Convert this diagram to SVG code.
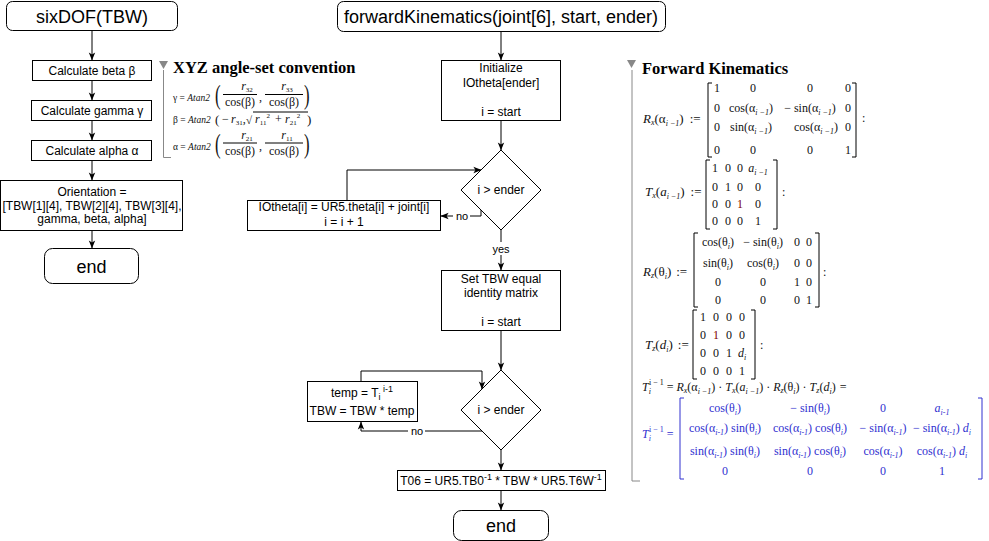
<svg xmlns="http://www.w3.org/2000/svg" width="989" height="541" viewBox="0 0 989 541">
<style>
.box{fill:#fff;stroke:#000;stroke-width:1}
.t{font-family:"Liberation Sans",Arial,sans-serif;font-size:12px;fill:#000;text-anchor:middle}
.big{font-size:18px}
.edge{fill:none;stroke:#000;stroke-width:1;marker-end:url(#arr)}
.lbl{font-family:"Liberation Sans",Arial,sans-serif;font-size:11px;fill:#000;text-anchor:middle}
.m{font-family:"Liberation Serif","Times New Roman",serif;font-size:12px;fill:#111}
.c{text-anchor:middle}
.i{font-style:italic}
.s{font-size:8px}
.blue{fill:#3030d0}
.br{fill:none;stroke:#000;stroke-width:1}
.bb{fill:none;stroke:#3030d0;stroke-width:1}
.mr{fill:#800000}
.guide{fill:none;stroke:#888;stroke-width:1}
.ttl{font-family:"Liberation Serif","Times New Roman",serif;font-weight:bold;font-size:16.5px;fill:#000}
</style>
<defs>
<marker id="arr" viewBox="0 0 10 10" refX="9.5" refY="5" markerWidth="8" markerHeight="8" orient="auto" markerUnits="userSpaceOnUse">
<path d="M0,1 L10,5 L0,9 L2.5,5 z" fill="#000"/>
</marker>
</defs>

<g id="connectors">
<path class="edge" d="M92,31 L92,60"/>
<path class="edge" d="M92,81 L92,100"/>
<path class="edge" d="M92,121 L92,140"/>
<path class="edge" d="M92,161 L92,180"/>
<path class="edge" d="M92,231 L92,248"/>
<path class="edge" d="M501,32 L501,60"/>
<path class="edge" d="M501,121 L501,150"/>
<path class="edge" d="M347,200 L347,170 L481,170"/>
<path class="edge" d="M481,210 L481,216 L441,216"/>
<rect x="453" y="209" width="17" height="13" fill="#fff"/>
<text class="lbl" x="462" y="219.5">no</text>
<path class="edge" d="M501,230 L501,270"/>
<rect x="491" y="242" width="20" height="13" fill="#fff"/>
<text class="lbl" x="501" y="252.5">yes</text>
<path class="edge" d="M501,331 L501,370"/>
<path class="edge" d="M361,381 L361,371 L482,371 L482,389"/>
<path class="edge" d="M482,429 L482,431 L361,431 L361,422"/>
<rect x="408" y="424" width="17" height="13" fill="#fff"/>
<text class="lbl" x="417" y="434.5">no</text>
<path class="edge" d="M501,450 L501,470"/>
<path class="edge" d="M501,491 L501,510"/>
</g>

<g id="sixDOF">
<rect class="box" x="6.5" y="1.5" width="171" height="29" rx="6"/>
<text class="t big" x="92" y="22.5">sixDOF(TBW)</text>
</g>
<g id="calcBeta">
<rect class="box" x="32.5" y="60.5" width="119" height="20"/>
<text class="t" x="92" y="75">Calculate beta β</text>
</g>
<g id="calcGamma">
<rect class="box" x="31.5" y="100.5" width="120" height="20"/>
<text class="t" x="92" y="115">Calculate gamma γ</text>
</g>
<g id="calcAlpha">
<rect class="box" x="31.5" y="140.5" width="120" height="20"/>
<text class="t" x="92" y="155">Calculate alpha α</text>
</g>
<g id="orientation">
<rect class="box" x="0.5" y="180.5" width="182" height="50"/>
<text class="t" x="92" y="196">Orientation =</text>
<text class="t" x="92" y="209.5" textLength="179" lengthAdjust="spacingAndGlyphs">[TBW[1][4], TBW[2][4], TBW[3][4],</text>
<text class="t" x="92" y="223">gamma, beta, alpha]</text>
</g>
<g id="end1">
<rect class="box" x="44.5" y="248.5" width="94" height="35" rx="8"/>
<text class="t big" x="91.5" y="272.5">end</text>
</g>

<g id="xyz">
<path d="M159,61 L168,61 L163.5,69 z" fill="#888"/>
<path class="guide" d="M163.5,70 L163.5,157.5 L171,157.5"/>
<text class="ttl" x="173" y="73">XYZ angle-set convention</text>
<g class="m" font-size="10">
<text x="173" y="101" font-size="9.5">γ = <tspan class="i">Atan2</tspan></text>
<text transform="translate(215,104) scale(0.6,1)" font-size="28">(</text>
<text x="247" y="90" class="c"><tspan class="i">r</tspan><tspan font-size="7" dy="2">32</tspan></text>
<path class="br" d="M223,94.5 L257,94.5"/>
<text x="240" y="106" class="c">cos(β)</text>
<text x="259" y="101">,</text>
<text x="287" y="90" class="c"><tspan class="i">r</tspan><tspan font-size="7" dy="2">33</tspan></text>
<path class="br" d="M265,94.5 L303,94.5"/>
<text x="284" y="106" class="c">cos(β)</text>
<text transform="translate(304,104) scale(0.6,1)" font-size="28">)</text>

<text x="173" y="123" font-size="9.5">β = <tspan class="i">Atan2</tspan></text>
<text x="215" y="124" font-size="13">(</text>
<text x="222" y="123">−</text>
<text x="231" y="123"><tspan class="i">r</tspan><tspan font-size="7" dy="2">31</tspan><tspan dy="-2">,</tspan></text>
<text x="246" y="124" font-size="11">√</text>
<path class="br" d="M253,112 L308,112"/>
<text x="255" y="123"><tspan class="i">r</tspan><tspan font-size="7" dy="2">11</tspan><tspan font-size="7" dy="-7">2</tspan></text>
<text x="275" y="123">+</text>
<text x="285" y="123"><tspan class="i">r</tspan><tspan font-size="7" dy="2">21</tspan><tspan font-size="7" dy="-7">2</tspan></text>
<text x="307" y="124" font-size="13">)</text>

<text x="173" y="150" font-size="9.5">α = <tspan class="i">Atan2</tspan></text>
<text transform="translate(215,153) scale(0.6,1)" font-size="28">(</text>
<text x="247" y="139" class="c"><tspan class="i">r</tspan><tspan font-size="7" dy="2">21</tspan></text>
<path class="br" d="M223,143 L257,143"/>
<text x="240" y="155" class="c">cos(β)</text>
<text x="259" y="150">,</text>
<text x="287" y="139" class="c"><tspan class="i">r</tspan><tspan font-size="7" dy="2">11</tspan></text>
<path class="br" d="M265,143 L303,143"/>
<text x="284" y="155" class="c">cos(β)</text>
<text transform="translate(304,153) scale(0.6,1)" font-size="28">)</text>
</g>
</g>

<g id="forwardKinematics">
<rect class="box" x="337.5" y="1.5" width="328" height="30" rx="6"/>
<text class="t big" x="501" y="23">forwardKinematics(joint[6], start, ender)</text>
</g>
<g id="init">
<rect class="box" x="441.5" y="60.5" width="119" height="60"/>
<text class="t" x="501" y="72">Initialize</text>
<text class="t" x="501" y="87">IOtheta[ender]</text>
<text class="t" x="501" y="116">i = start</text>
</g>
<g id="cond1">
<polygon class="box" points="501,150 541,190 501,230 461,190"/>
<text class="t" x="501" y="194">i &gt; ender</text>
</g>
<g id="update">
<rect class="box" x="247.5" y="200.5" width="193" height="30"/>
<text class="t" x="344" y="211">IOtheta[i] = UR5.theta[i] + joint[i]</text>
<text class="t" x="344" y="226">i = i + 1</text>
</g>
<g id="setTBW">
<rect class="box" x="441.5" y="270.5" width="119" height="60"/>
<text class="t" x="501" y="283">Set TBW equal</text>
<text class="t" x="501" y="297">identity matrix</text>
<text class="t" x="501" y="326">i = start</text>
</g>
<g id="cond2">
<polygon class="box" points="501,370 541,410 501,450 461,410"/>
<text class="t" x="501" y="414">i &gt; ender</text>
</g>
<g id="temp">
<rect class="box" x="307.5" y="381.5" width="110" height="40"/>
<text class="t" x="362" y="397">temp = T<tspan font-size="9" dy="3">i</tspan><tspan font-size="9" dy="-8"> i-1</tspan></text>
<text class="t" x="362" y="415">TBW = TBW * temp</text>
</g>
<g id="t06">
<rect class="box" x="397.5" y="470.5" width="208" height="20"/>
<text class="t" x="501" y="485" font-size="11.7">T06 = UR5.TB0<tspan font-size="9" dy="-5">-1</tspan><tspan dy="5"> * TBW * UR5.T6W</tspan><tspan font-size="9" dy="-5">-1</tspan></text>
</g>
<g id="end2">
<rect class="box" x="453.5" y="510.5" width="95" height="30" rx="8"/>
<text class="t big" x="501" y="531.5">end</text>
</g>

<g id="fk">
<path d="M627,60 L636,60 L631.5,68 z" fill="#888"/>
<path class="guide" d="M632,70 L632,481 L640,481"/>
<text class="ttl" x="642" y="74" font-size="17.5">Forward Kinematics</text>

<g class="m">
<!-- Rx -->
<text x="643" y="123" font-size="13"><tspan class="i">R</tspan><tspan class="s i" dy="2">x</tspan><tspan dy="-2">(α</tspan><tspan class="s i" dy="3">i −1</tspan><tspan dy="-3">)</tspan><tspan dx="6">:=</tspan></text>
<path class="br" d="M712,83 L708,83 L708,157 L712,157"/>
<path class="br" d="M852,83 L856,83 L856,157 L852,157"/>
<text x="862" y="122">:</text>
<text class="c" x="717" y="92">1</text><text class="c" x="753" y="92">0</text><text class="c" x="810" y="92">0</text><text class="c" x="848" y="92">0</text>
<text class="c" x="717" y="112">0</text>
<text class="c" x="751" y="112">cos(α<tspan class="s i" dy="3">i −1</tspan><tspan dy="-3">)</tspan></text>
<text class="c" x="810" y="112">− sin(α<tspan class="s i" dy="3">i −1</tspan><tspan dy="-3">)</tspan></text>
<text class="c" x="848" y="112">0</text>
<text class="c" x="717" y="131">0</text>
<text class="c" x="751" y="131">sin(α<tspan class="s i" dy="3">i −1</tspan><tspan dy="-3">)</tspan></text>
<text class="c" x="816" y="131">cos(α<tspan class="s i" dy="3">i −1</tspan><tspan dy="-3">)</tspan></text>
<text class="c" x="848" y="131">0</text>
<text class="c" x="717" y="154">0</text><text class="c" x="753" y="154">0</text><text class="c" x="810" y="154">0</text><text class="c" x="848" y="154">1</text>

<!-- Tx -->
<text x="645" y="196" font-size="13"><tspan class="i">T</tspan><tspan class="s i" dy="2">x</tspan><tspan dy="-2">(</tspan><tspan class="i">a</tspan><tspan class="s i" dy="3">i −1</tspan><tspan dy="-3">)</tspan><tspan dx="6">:=</tspan></text>
<path class="br" d="M710,160 L706,160 L706,229 L710,229"/>
<path class="br" d="M773,160 L777,160 L777,229 L773,229"/>
<text x="782" y="196">:</text>
<text class="c" x="715" y="172">1</text><text class="c" x="728" y="172">0</text><text class="c" x="740" y="172">0</text>
<text class="c" x="758" y="172"><tspan class="i">a</tspan><tspan class="s i" dy="3">i −1</tspan></text>
<text class="c" x="715" y="191">0</text><text class="c" x="728" y="191">1</text><text class="c" x="740" y="191">0</text><text class="c" x="758" y="191">0</text>
<text class="c" x="715" y="208">0</text><text class="c" x="728" y="208">0</text><text class="c mr" x="740" y="208">1</text><text class="c" x="758" y="208">0</text>
<text class="c" x="715" y="225">0</text><text class="c" x="728" y="225">0</text><text class="c" x="740" y="225">0</text><text class="c" x="758" y="225">1</text>

<!-- Rz -->
<text x="643" y="276" font-size="13"><tspan class="i">R</tspan><tspan class="s i" dy="2">z</tspan><tspan dy="-2">(θ</tspan><tspan class="s i" dy="3">i</tspan><tspan dy="-3">)</tspan><tspan dx="5">:=</tspan></text>
<path class="br" d="M698,233 L694,233 L694,307 L698,307"/>
<path class="br" d="M815,233 L819,233 L819,307 L815,307"/>
<text x="823" y="276">:</text>
<text class="c" x="718" y="246">cos(θ<tspan class="s i" dy="3">i</tspan><tspan dy="-3">)</tspan></text>
<text class="c" x="763" y="246">− sin(θ<tspan class="s i" dy="3">i</tspan><tspan dy="-3">)</tspan></text>
<text class="c" x="797" y="246">0</text><text class="c" x="809" y="246">0</text>
<text class="c" x="718" y="267">sin(θ<tspan class="s i" dy="3">i</tspan><tspan dy="-3">)</tspan></text>
<text class="c" x="763" y="267">cos(θ<tspan class="s i" dy="3">i</tspan><tspan dy="-3">)</tspan></text>
<text class="c" x="797" y="267">0</text><text class="c" x="809" y="267">0</text>
<text class="c" x="718" y="286">0</text><text class="c" x="763" y="286">0</text><text class="c" x="797" y="286">1</text><text class="c" x="809" y="286">0</text>
<text class="c" x="718" y="304">0</text><text class="c" x="763" y="304">0</text><text class="c" x="797" y="304">0</text><text class="c" x="809" y="304">1</text>

<!-- Tz -->
<text x="645" y="349" font-size="13"><tspan class="i">T</tspan><tspan class="s i" dy="2">z</tspan><tspan dy="-2">(</tspan><tspan class="i">d</tspan><tspan class="s i" dy="3">i</tspan><tspan dy="-3">)</tspan><tspan dx="5">:=</tspan></text>
<path class="br" d="M697,310 L693,310 L693,379 L697,379"/>
<path class="br" d="M751,310 L755,310 L755,379 L751,379"/>
<text x="760" y="349">:</text>
<text class="c" x="703" y="321">1</text><text class="c" x="716" y="321">0</text><text class="c" x="729" y="321">0</text><text class="c" x="742" y="321">0</text>
<text class="c" x="703" y="339">0</text><text class="c mr" x="716" y="339">1</text><text class="c" x="729" y="339">0</text><text class="c" x="742" y="339">0</text>
<text class="c" x="703" y="357">0</text><text class="c" x="716" y="357">0</text><text class="c" x="729" y="357">1</text>
<text class="c" x="742" y="357"><tspan class="i">d</tspan><tspan class="s i" dy="3">i</tspan></text>
<text class="c" x="703" y="375">0</text><text class="c" x="716" y="375">0</text><text class="c" x="729" y="375">0</text><text class="c" x="742" y="375">1</text>

<!-- product -->
<text x="642" y="391"><tspan class="i">T</tspan><tspan class="s i" dy="3">i</tspan><tspan class="s" dx="-2" dy="-9">i − 1</tspan><tspan dy="6"> = </tspan><tspan class="i">R</tspan><tspan class="s i" dy="2">x</tspan><tspan dy="-2">(α</tspan><tspan class="s i" dy="3">i −1</tspan><tspan dy="-3">) · </tspan><tspan class="i">T</tspan><tspan class="s i" dy="2">x</tspan><tspan dy="-2">(</tspan><tspan class="i">a</tspan><tspan class="s i" dy="3">i −1</tspan><tspan dy="-3">) · </tspan><tspan class="i">R</tspan><tspan class="s i" dy="2">z</tspan><tspan dy="-2">(θ</tspan><tspan class="s i" dy="3">i</tspan><tspan dy="-3">) · </tspan><tspan class="i">T</tspan><tspan class="s i" dy="2">z</tspan><tspan dy="-2">(</tspan><tspan class="i">d</tspan><tspan class="s i" dy="3">i</tspan><tspan dy="-3">)</tspan><tspan dx="4">=</tspan></text>

<!-- result -->
<g class="blue">
<text x="642" y="438"><tspan class="i">T</tspan><tspan class="s i" dy="3">i</tspan><tspan class="s" dx="-2" dy="-9">i − 1</tspan><tspan dy="6"> =</tspan></text>
<text class="c" x="725" y="412">cos(θ<tspan class="s i" dy="3">i</tspan><tspan dy="-3">)</tspan></text>
<text class="c" x="810" y="412">− sin(θ<tspan class="s i" dy="3">i</tspan><tspan dy="-3">)</tspan></text>
<text class="c" x="883" y="412">0</text>
<text class="c" x="942" y="412"><tspan class="i">a</tspan><tspan class="s i" dy="3">i-1</tspan></text>
<text class="c" x="725" y="432">cos(α<tspan class="s i" dy="3">i-1</tspan><tspan dy="-3">) sin(θ</tspan><tspan class="s i" dy="3">i</tspan><tspan dy="-3">)</tspan></text>
<text class="c" x="810" y="432">cos(α<tspan class="s i" dy="3">i-1</tspan><tspan dy="-3">) cos(θ</tspan><tspan class="s i" dy="3">i</tspan><tspan dy="-3">)</tspan></text>
<text class="c" x="883" y="432">− sin(α<tspan class="s i" dy="3">i-1</tspan><tspan dy="-3">)</tspan></text>
<text class="c" x="942" y="432">− sin(α<tspan class="s i" dy="3">i-1</tspan><tspan dy="-3">) </tspan><tspan class="i">d</tspan><tspan class="s i" dy="3">i</tspan></text>
<text class="c" x="725" y="455">sin(α<tspan class="s i" dy="3">i-1</tspan><tspan dy="-3">) sin(θ</tspan><tspan class="s i" dy="3">i</tspan><tspan dy="-3">)</tspan></text>
<text class="c" x="810" y="455">sin(α<tspan class="s i" dy="3">i-1</tspan><tspan dy="-3">) cos(θ</tspan><tspan class="s i" dy="3">i</tspan><tspan dy="-3">)</tspan></text>
<text class="c" x="883" y="455">cos(α<tspan class="s i" dy="3">i-1</tspan><tspan dy="-3">)</tspan></text>
<text class="c" x="942" y="455">cos(α<tspan class="s i" dy="3">i-1</tspan><tspan dy="-3">) </tspan><tspan class="i">d</tspan><tspan class="s i" dy="3">i</tspan></text>
<text class="c" x="725" y="475">0</text><text class="c" x="810" y="475">0</text><text class="c" x="883" y="475">0</text><text class="c" x="942" y="475">1</text>
</g>
<path class="bb" d="M684,398 L680,398 L680,479 L684,479"/>
<path class="bb" d="M978,398 L982,398 L982,479 L978,479"/>
</g>
</g>
</svg>
